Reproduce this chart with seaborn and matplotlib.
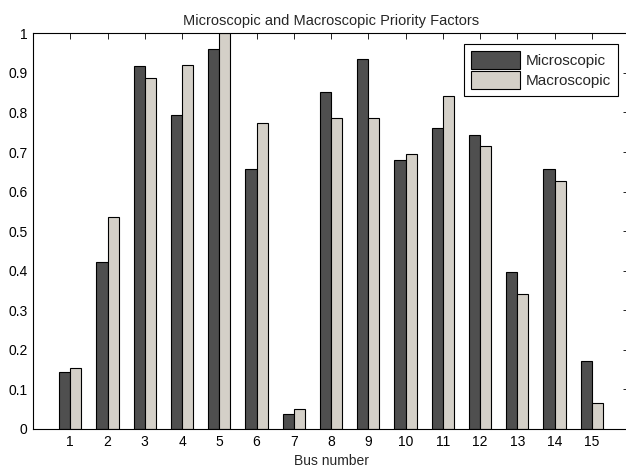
import matplotlib
matplotlib.use("Agg")
import matplotlib.pyplot as plt
import seaborn as sns
import pandas as pd

buses = [str(i) for i in range(1, 16)]
microscopic = [0.143, 0.423, 0.917, 0.793, 0.960, 0.656, 0.038, 0.851,
               0.936, 0.681, 0.760, 0.744, 0.396, 0.656, 0.173]
macroscopic = [0.155, 0.535, 0.887, 0.920, 1.000, 0.774, 0.050, 0.785,
               0.787, 0.696, 0.842, 0.715, 0.341, 0.626, 0.065]
series = ["Microscopic", "Macroscopic"]

df = pd.DataFrame({
    "bus": buses * 2,
    "value": microscopic + macroscopic,
    "series": [series[0]] * len(buses) + [series[1]] * len(buses),
})

sns.set_style("white")
plt.rcParams["font.family"] = ["Liberation Sans", "DejaVu Sans"]
plt.rcParams["font.size"] = 10

fig = plt.figure(figsize=(6.26, 4.71), dpi=100)
ax = fig.add_axes([33 / 626, 1 - 429 / 471, (629 - 33) / 626, (429 - 33.3) / 471])

sns.barplot(data=df, x="bus", y="value", hue="series", order=buses,
            hue_order=series, palette=["#4f4f4f", "#d4d0c8"], width=0.6,
            edgecolor="black", linewidth=0.8, saturation=1, ax=ax)

ax.set_xlim(-1, 15)
ax.set_ylim(0, 1)
ax.set_yticks([i / 10 for i in range(11)])
ax.set_yticklabels(["0", "0.1", "0.2", "0.3", "0.4", "0.5", "0.6", "0.7", "0.8", "0.9", "1"])
ax.tick_params(direction="in", top=True, right=True, length=4, width=0.6,
               colors="black", labelsize=10, pad=4)
for s in ax.spines.values():
    s.set_visible(True)
    s.set_color("black")
    s.set_linewidth(0.8)

ax.set_xlabel("Bus number", fontsize=10, labelpad=4)
ax.set_ylabel("")
ax.set_title("Microscopic and Macroscopic Priority Factors", fontsize=10.5, pad=6)

leg = ax.legend(loc="upper right", bbox_to_anchor=(617.7 / 626, 1 - 44 / 471),
                bbox_transform=fig.transFigure, fancybox=False, framealpha=1,
                edgecolor="black", handlelength=3.2, handleheight=1.45,
                borderpad=0.45, labelspacing=0.1, handletextpad=0.35,
                borderaxespad=0, fontsize=11)
leg.get_frame().set_linewidth(0.8)

fig.savefig("out.png", dpi=100)
